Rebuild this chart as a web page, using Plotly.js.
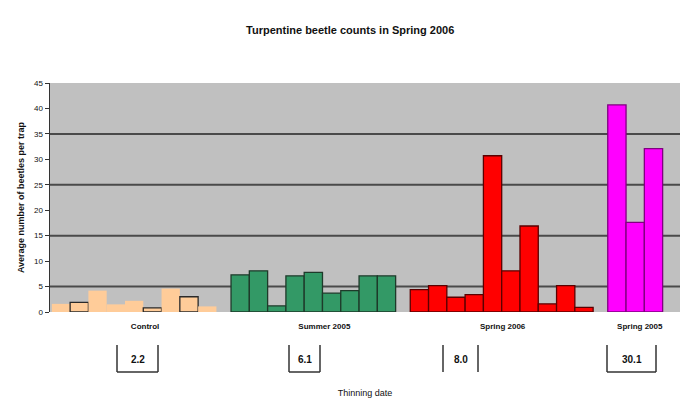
<!DOCTYPE html>
<html>
<head>
<meta charset="utf-8">
<script src="https://cdn.plot.ly/plotly-3.0.1.min.js"></script>
<style>html,body{margin:0;padding:0;background:#fff;}#chart{width:680px;height:411px;}</style>
</head>
<body>
<div id="chart"></div>
<script>
// ---- data ----
const groups = ['Control', 'Summer 2005', 'Spring 2006', 'Spring 2005'];
const control = [1.6, 1.9, 4.2, 1.5, 2.2, 0.8, 4.6, 3.0, 1.1];
const summer2005 = [7.3, 8.1, 1.2, 7.1, 7.8, 3.7, 4.2, 7.1, 7.1];
const spring2006 = [4.4, 5.2, 2.9, 3.4, 30.7, 8.1, 16.9, 1.6, 5.2, 0.9];
const spring2005 = [40.7, 17.6, 32.1];
const groupMeans = ['2.2', '6.1', '8.0', '30.1'];
const yTicks = [0, 5, 10, 15, 20, 25, 30, 35, 40, 45];

// ---- styles ----
const series = [control, summer2005, spring2006, spring2005];
const fills = ['#FFCC99', '#339966', '#FF0000', '#FF00FF'];
const outlines = ['#2a2a2a', '#1e3a2a', '#5a0000', '#800080'];
const controlOutlined = [1, 5, 7];
const labelShift = [0.6, 0.6, 0.05, 0.25];
const GAP = 0.8;

const traces = [];
const centers = [];
let pos = 0;
series.forEach((vals, g) => {
  const xs = vals.map((v, i) => pos + i);
  centers.push(pos + (vals.length - 1) / 2 + labelShift[g]);
  let lineColors;
  if (g === 0) {
    lineColors = vals.map((v, i) => controlOutlined.includes(i) ? outlines[0] : 'rgba(0,0,0,0)');
  } else {
    lineColors = vals.map(() => outlines[g]);
  }
  traces.push({
    type: 'bar', x: xs, y: vals, width: vals.map(() => 1),
    marker: {color: fills[g], line: {color: lineColors, width: 1.3}},
    hoverinfo: 'y', showlegend: false
  });
  pos += vals.length + GAP;
});

// plot area in pixels: x 50..680, y 83..312
const L = 50, R = 680, T = 83, B = 312;
const px = x => (x - L) / (R - L);
const py = y => (B - y) / (B - T);

const shapes = [];
for (let v = 5; v < 45; v += 10) {
  shapes.push({type: 'line', xref: 'paper', yref: 'y', x0: 0, x1: 1, y0: v, y1: v,
    line: {color: '#4a4a4a', width: 2}, layer: 'below'});
}
// mean brackets [left, right, showBottom]
const brackets = [[117, 158, true], [289, 320, true], [443, 478, false], [607, 656, true]];
const annotations = [];
brackets.forEach((b, i) => {
  const [a, c, bottom] = b;
  const lineStyle = {color: '#333', width: 1.5};
  shapes.push({type: 'line', xref: 'paper', yref: 'paper', x0: px(a), x1: px(a), y0: py(345), y1: py(372), line: lineStyle});
  shapes.push({type: 'line', xref: 'paper', yref: 'paper', x0: px(c), x1: px(c), y0: py(345), y1: py(372), line: lineStyle});
  if (bottom) shapes.push({type: 'line', xref: 'paper', yref: 'paper', x0: px(a), x1: px(c), y0: py(372), y1: py(372), line: lineStyle});
  annotations.push({xref: 'paper', yref: 'paper', x: px((a + c) / 2), y: py(359), text: groupMeans[i],
    showarrow: false, xanchor: 'center', yanchor: 'middle',
    font: {family: 'Liberation Sans, Arial', size: 10, color: '#111', weight: 'bold'}});
});

const layout = {
  width: 680, height: 411,
  margin: {l: L, r: 680 - R, t: T, b: 411 - B},
  paper_bgcolor: '#ffffff', plot_bgcolor: '#c0c0c0',
  bargap: 0,
  title: {text: '<b>Turpentine beetle counts in Spring 2006</b>', x: 0.515, xanchor: 'center', y: 0.927, yanchor: 'middle',
    font: {family: 'Liberation Sans, Arial', size: 11, color: '#111'}},
  xaxis: {range: [-0.6, pos - GAP - 0.5 + 0.95], tickvals: centers, ticktext: groups.map(s => '<b>' + s + '</b>'),
    showgrid: false, zeroline: false, showline: false, ticks: 'outside', ticklen: 6, tickcolor: 'rgba(0,0,0,0)',
    tickfont: {family: 'Liberation Sans, Arial', size: 8, color: '#111'},
    title: {text: 'Thinning date', standoff: 60, font: {family: 'Liberation Sans, Arial', size: 9, color: '#111'}}},
  yaxis: {range: [0, 45], tickvals: yTicks, ticktext: yTicks.map(String), showgrid: false, zeroline: false,
    showline: true, linecolor: '#333', linewidth: 1.5, ticks: 'outside', ticklen: 4, tickcolor: '#333',
    tickfont: {family: 'Liberation Sans, Arial', size: 8, color: '#111'},
    title: {text: '<b>Average number of beetles per trap</b>', standoff: 8,
      font: {family: 'Liberation Sans, Arial', size: 9, color: '#111'}}},
  shapes: shapes,
  annotations: annotations
};

Plotly.newPlot('chart', traces, layout, {displayModeBar: false, staticPlot: true});
</script>
</body>
</html>
